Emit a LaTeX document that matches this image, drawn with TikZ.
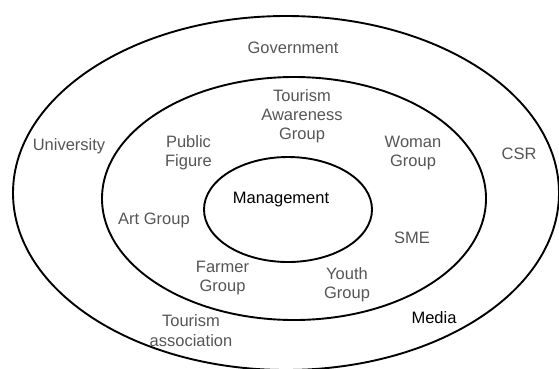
\documentclass[tikz,border=0pt]{standalone}
\usepackage{fontspec}
\setmainfont{Liberation Sans}
\begin{document}
\begin{tikzpicture}[x=1pt,y=-1pt,
  ring/.style={draw=black,line width=1.9pt},
  lbl/.style={text=labelgray,align=center,inner sep=0pt,
    font=\fontsize{16.5}{19.2}\selectfont},
  core/.style={lbl,text=black}]
\definecolor{labelgray}{HTML}{555555}
\useasboundingbox (0,0) rectangle (559,368);
% three nested rings
\draw[ring] (286,193) ellipse [x radius=273,y radius=177];
\draw[ring] (294,198.5) ellipse [x radius=192,y radius=121.5];
\draw[ring] (288,209.5) ellipse [x radius=84,y radius=52.5];
% outer ring
\node[lbl] (gov) at (293,48) {Government};
\node[lbl] (uni) at (69,146) {University};
\node[lbl] (csr) at (519,154) {CSR};
\node[lbl] (tass) at (191,330.5) {Tourism\\association};
\node[core] (media) at (434,318) {Media};
% middle ring
\node[lbl] (tag) at (302,116) {Tourism\\Awareness\\Group};
\node[lbl] (pub) at (188.5,152.5) {Public\\Figure};
\node[lbl] (wom) at (413,153) {Woman\\Group};
\node[lbl] (art) at (154,220) {Art Group};
\node[lbl] (sme) at (412,238) {SME};
\node[lbl] (farm) at (222.5,278) {Farmer\\Group};
\node[lbl] (youth) at (347,284.5) {Youth\\Group};
% core
\node[core] (mgmt) at (281,200) {Management};
\end{tikzpicture}
\end{document}
